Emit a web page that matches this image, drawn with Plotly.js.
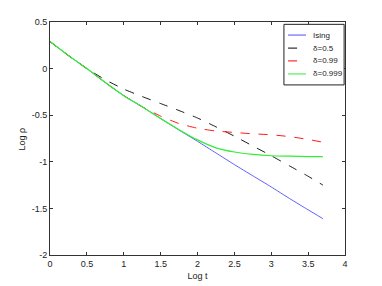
<!DOCTYPE html>
<html>
<head>
<meta charset="utf-8">
<script src="https://cdn.plot.ly/plotly-3.0.1.min.js"></script>
<style>
  html, body { margin: 0; padding: 0; background: #fff; }
  #chart { width: 382px; height: 286px; }
</style>
</head>
<body>
<div id="chart"></div>
<script>
const logT = [0, 0.25, 0.5, 0.75, 1, 1.25, 1.5, 1.75, 2, 2.25, 2.5, 2.75, 3, 3.25, 3.5, 3.7];

const ising = [0.29, 0.14, 0.0, -0.15, -0.29, -0.41, -0.535, -0.66, -0.78, -0.905, -1.03, -1.15, -1.27, -1.395, -1.515, -1.61];
const delta05 = [0.29, 0.14, 0.0, -0.12, -0.22, -0.30, -0.375, -0.45, -0.53, -0.625, -0.725, -0.83, -0.935, -1.045, -1.155, -1.25];
const delta099 = [0.29, 0.14, 0.0, -0.15, -0.29, -0.41, -0.51, -0.59, -0.64, -0.67, -0.685, -0.7, -0.71, -0.73, -0.76, -0.79];
const delta0999 = [0.29, 0.14, 0.0, -0.15, -0.29, -0.41, -0.535, -0.655, -0.765, -0.85, -0.895, -0.92, -0.935, -0.94, -0.945, -0.945];

const seriesNames = ["Ising", "δ=0.5", "δ=0.99", "δ=0.999"];
const seriesColors = ["#4d4dff", "#000000", "#ff0000", "#33ee33"];
const seriesDash = ["solid", "dash", "dash", "solid"];

const xTicks = [0, 0.5, 1, 1.5, 2, 2.5, 3, 3.5, 4];
const xTickText = ["0", "0.5", "1", "1.5", "2", "2.5", "3", "3.5", "4"];
const yTicks = [0.5, 0, -0.5, -1, -1.5, -2];
const yTickText = ["0.5", "0", "-0.5", "-1", "-1.5", "-2"];

const allSeries = [ising, delta05, delta099, delta0999];

const traces = allSeries.map((y, i) => ({
  type: "scatter",
  mode: "lines",
  name: seriesNames[i],
  x: logT,
  y,
  line: { color: seriesColors[i], dash: seriesDash[i], width: i === 3 ? 1.2 : 0.9, shape: "spline", smoothing: 0.5 }
}));

// legend drawn as a boxed key in the upper right (MATLAB style, compact rows)
const legendBox = { x0: 0.793, x1: 0.997, y0: 0.73, y1: 0.99 };
const legendRows = [0.944, 0.888, 0.833, 0.777];

const shapes = [{
  type: "rect", xref: "paper", yref: "paper",
  x0: legendBox.x0, x1: legendBox.x1, y0: legendBox.y0, y1: legendBox.y1,
  line: { color: "#222", width: 1 }, fillcolor: "#fff", layer: "above"
}];
const annotations = [];
seriesNames.forEach((name, i) => {
  shapes.push({
    type: "line", xref: "paper", yref: "paper",
    x0: 0.807, x1: 0.868, y0: legendRows[i], y1: legendRows[i],
    line: { color: seriesColors[i], dash: seriesDash[i], width: 1 }, layer: "above"
  });
  annotations.push({
    xref: "paper", yref: "paper", x: 0.885, y: legendRows[i],
    xanchor: "left", yanchor: "middle", showarrow: false,
    text: name, font: { size: 8, color: "#222" }
  });
});

// y title sits close to the axis, as in the original figure
annotations.push({
  xref: "paper", yref: "paper", x: -0.095, y: 0.5,
  xanchor: "center", yanchor: "middle", showarrow: false, textangle: -90,
  text: "Log ρ", font: { size: 9, color: "#222" }
});

const axisBase = {
  showgrid: false,
  zeroline: false,
  showline: true,
  linecolor: "#333",
  linewidth: 1,
  mirror: "ticks",
  ticks: "inside",
  ticklen: 3,
  tickcolor: "#333",
  tickfont: { size: 9, color: "#222" }
};

const layout = {
  width: 382,
  height: 286,
  margin: { l: 50, r: 37, t: 22, b: 31 },
  paper_bgcolor: "#fff",
  plot_bgcolor: "#fff",
  font: { family: "Liberation Sans, Arial, sans-serif", size: 9, color: "#222" },
  showlegend: false,
  shapes,
  annotations,
  xaxis: Object.assign({}, axisBase, {
    range: [0, 4],
    tickvals: xTicks,
    ticktext: xTickText,
    title: { text: "Log t", font: { size: 9 }, standoff: 4 }
  }),
  yaxis: Object.assign({}, axisBase, {
    range: [-2, 0.5],
    tickvals: yTicks,
    ticktext: yTickText
  })
};

Plotly.newPlot("chart", traces, layout, { displayModeBar: false, staticPlot: true });
</script>
</body>
</html>
